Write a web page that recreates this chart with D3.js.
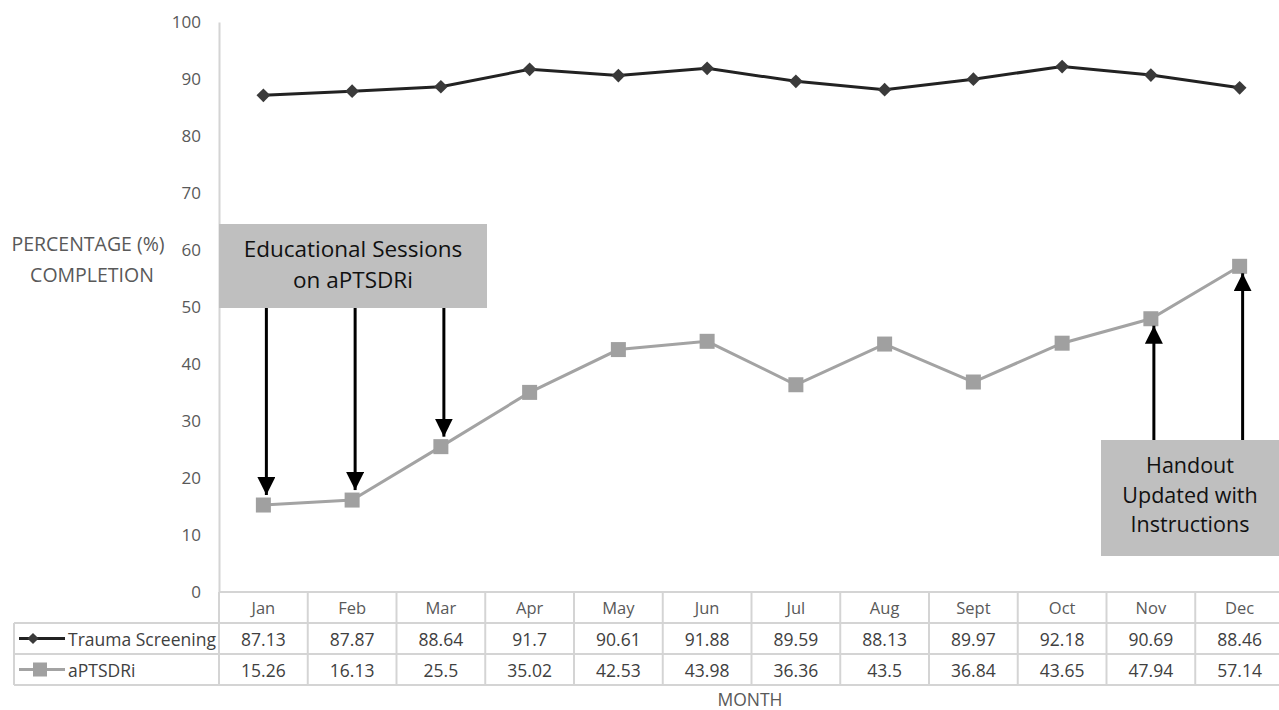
<!DOCTYPE html>
<html>
<head>
<meta charset="utf-8">
<script src="https://cdn.jsdelivr.net/npm/d3@7"></script>
<style>
  html, body { margin: 0; padding: 0; background: #fff; }
  svg { display: block; font-family: "Open Sans", Lato, sans-serif; }
</style>
</head>
<body>
<svg id="chart" width="1279" height="710"></svg>
<script>
// Monthly completion rates
const months = ["Jan", "Feb", "Mar", "Apr", "May", "Jun", "Jul", "Aug", "Sept", "Oct", "Nov", "Dec"];
const traumaScreening = [87.13, 87.87, 88.64, 91.7, 90.61, 91.88, 89.59, 88.13, 89.97, 92.18, 90.69, 88.46];
const aptsdri = [15.26, 16.13, 25.5, 35.02, 42.53, 43.98, 36.36, 43.5, 36.84, 43.65, 47.94, 57.14];
const yTicks = [0, 10, 20, 30, 40, 50, 60, 70, 80, 90, 100];
const seriesNames = ["Trauma Screening", "aPTSDRi"];

// Annotations: months pointed to and the callout text
const educationMonths = ["Jan", "Feb", "Mar"];
const educationText = ["Educational Sessions", "on aPTSDRi"];
const handoutMonths = ["Nov", "Dec"];
const handoutText = ["Handout", "Updated with", "Instructions"];

const svg = d3.select("#chart");
const plotLeft = 219, plotRight = 1284, plotTop = 22, plotBottom = 592;
const tableLeft = 14, rowH = 31;

const x = d3.scaleBand().domain(months).range([plotLeft, plotRight]).padding(0);
const cx = m => x(m) + x.bandwidth() / 2;
const y = d3.scaleLinear().domain([0, 100]).range([plotBottom, plotTop]);

const gridColor = "#d4d4d4";
const textColor = "#595959";
const darkLine = "#222", darkMark = "#3a3a3a";
const lightLine = "#a3a3a3", lightMark = "#a0a0a0";

// Y axis
const yAxis = d3.axisLeft(y).tickValues(yTicks).tickSize(0).tickPadding(18);
const gy = svg.append("g").attr("transform", `translate(${plotLeft},0)`).call(yAxis);
gy.select(".domain").attr("stroke", gridColor).attr("stroke-width", 2);
gy.selectAll(".tick text").attr("fill", textColor).attr("font-size", 17)
  .attr("font-family", "'Open Sans', sans-serif");

// Y axis title
svg.append("text").attr("x", 88).attr("y", 251).attr("text-anchor", "middle")
  .attr("fill", textColor).attr("font-size", 19.5).text("PERCENTAGE (%)");
svg.append("text").attr("x", 92).attr("y", 282).attr("text-anchor", "middle")
  .attr("fill", textColor).attr("font-size", 19.5).text("COMPLETION");

// Data table under the plot
const table = svg.append("g");
const rowsY = [plotBottom, plotBottom + rowH, plotBottom + 2 * rowH, plotBottom + 3 * rowH];
// horizontal rules
table.append("line").attr("x1", plotLeft).attr("x2", plotRight).attr("y1", rowsY[0]).attr("y2", rowsY[0]);
[1, 2, 3].forEach(i => {
  table.append("line").attr("x1", tableLeft).attr("x2", plotRight).attr("y1", rowsY[i]).attr("y2", rowsY[i]);
});
// vertical rules
table.append("line").attr("x1", tableLeft).attr("x2", tableLeft).attr("y1", rowsY[1]).attr("y2", rowsY[3]);
table.append("line").attr("x1", plotLeft).attr("x2", plotLeft).attr("y1", rowsY[0]).attr("y2", rowsY[3]);
months.forEach(m => {
  table.append("line").attr("x1", x(m) + x.bandwidth()).attr("x2", x(m) + x.bandwidth())
    .attr("y1", rowsY[0]).attr("y2", rowsY[3]);
});
table.selectAll("line").attr("stroke", gridColor).attr("stroke-width", 2);

// month labels
table.selectAll("text.month").data(months).join("text").attr("class", "month")
  .attr("x", d => cx(d)).attr("y", rowsY[0] + 22).attr("text-anchor", "middle")
  .attr("fill", textColor).attr("font-size", 16.5).text(d => d);

// value rows
[traumaScreening, aptsdri].forEach((vals, r) => {
  table.selectAll(`text.v${r}`).data(vals).join("text").attr("class", `v${r}`)
    .attr("x", (d, i) => cx(months[i])).attr("y", rowsY[r + 1] + 22.5).attr("text-anchor", "middle")
    .attr("fill", "#404040").attr("font-size", 17.5).text(d => d);
});

// legend keys inside the table
const keyX0 = 19, keyX1 = 65;
const key0y = rowsY[1] + 15.5, key1y = rowsY[2] + 15.5;
table.append("line").attr("x1", keyX0).attr("x2", keyX1).attr("y1", key0y).attr("y2", key0y)
  .attr("stroke", darkLine).attr("stroke-width", 3);
table.append("path").attr("d", d3.symbol(d3.symbolDiamond2, 80)())
  .attr("transform", `translate(33,${key0y})`).attr("fill", darkMark);
table.append("line").attr("x1", keyX0).attr("x2", keyX1).attr("y1", key1y).attr("y2", key1y)
  .attr("stroke", lightLine).attr("stroke-width", 3);
table.append("rect").attr("x", 40 - 7).attr("y", key1y - 7).attr("width", 14).attr("height", 14)
  .attr("fill", lightMark);
table.append("text").attr("x", 68).attr("y", rowsY[1] + 22.5).attr("fill", "#404040")
  .attr("font-size", 17.5).text(seriesNames[0]);
table.append("text").attr("x", 68).attr("y", rowsY[2] + 22.5).attr("fill", "#404040")
  .attr("font-size", 17.5).text(seriesNames[1]);

// Series lines
const line = d3.line().x((d, i) => cx(months[i])).y(d => y(d));
svg.append("path").datum(traumaScreening).attr("d", line)
  .attr("fill", "none").attr("stroke", darkLine).attr("stroke-width", 3);
svg.append("path").datum(aptsdri).attr("d", line)
  .attr("fill", "none").attr("stroke", lightLine).attr("stroke-width", 3);

svg.selectAll("path.diamond").data(traumaScreening).join("path").attr("class", "diamond")
  .attr("d", d3.symbol(d3.symbolDiamond2, 120)())
  .attr("transform", (d, i) => `translate(${cx(months[i])},${y(d)})`)
  .attr("fill", darkMark);
svg.selectAll("rect.sq").data(aptsdri).join("rect").attr("class", "sq")
  .attr("x", (d, i) => cx(months[i]) - 7.5).attr("y", d => y(d) - 7.5)
  .attr("width", 15).attr("height", 15).attr("fill", lightMark);

// Arrow heads
const defs = svg.append("defs");
defs.append("marker").attr("id", "head").attr("viewBox", "0 0 10 10")
  .attr("refX", 10).attr("refY", 5).attr("markerWidth", 18).attr("markerHeight", 18)
  .attr("markerUnits", "userSpaceOnUse").attr("orient", "auto")
  .append("path").attr("d", "M0,0L10,5L0,10Z").attr("fill", "#000");

// Education callout box and its arrows
const box1 = { x0: plotLeft, x1: 487, y0: 224, y1: 308 };
svg.append("rect").attr("x", box1.x0).attr("y", box1.y0)
  .attr("width", box1.x1 - box1.x0).attr("height", box1.y1 - box1.y0).attr("fill", "#bfbfbf");
educationText.forEach((t, i) => {
  svg.append("text").attr("x", (box1.x0 + box1.x1) / 2).attr("y", 257 + i * 31)
    .attr("text-anchor", "middle").attr("font-size", 22.5).attr("fill", "#111").text(t);
});
educationMonths.forEach(m => {
  const i = months.indexOf(m);
  const xx = cx(m) + 3;
  svg.append("line").attr("x1", xx).attr("x2", xx).attr("y1", box1.y1)
    .attr("y2", y(aptsdri[i]) - 10).attr("stroke", "#000").attr("stroke-width", 3)
    .attr("marker-end", "url(#head)");
});

// Handout callout box and its arrows
const box2 = { x0: 1101, x1: 1279, y0: 440, y1: 556 };
svg.append("rect").attr("x", box2.x0).attr("y", box2.y0)
  .attr("width", box2.x1 - box2.x0).attr("height", box2.y1 - box2.y0).attr("fill", "#bfbfbf");
handoutText.forEach((t, i) => {
  svg.append("text").attr("x", 1190).attr("y", 473 + i * 29.5)
    .attr("text-anchor", "middle").attr("font-size", 21.5).attr("fill", "#111").text(t);
});
handoutMonths.forEach(m => {
  const i = months.indexOf(m);
  const xx = cx(m) + 3;
  svg.append("line").attr("x1", xx).attr("x2", xx).attr("y1", box2.y0)
    .attr("y2", y(aptsdri[i]) + 7).attr("stroke", "#000").attr("stroke-width", 3)
    .attr("marker-end", "url(#head)");
});

// X axis title
svg.append("text").attr("x", 750).attr("y", 706).attr("text-anchor", "middle")
  .attr("fill", textColor).attr("font-size", 17.5).text("MONTH");
</script>
</body>
</html>
